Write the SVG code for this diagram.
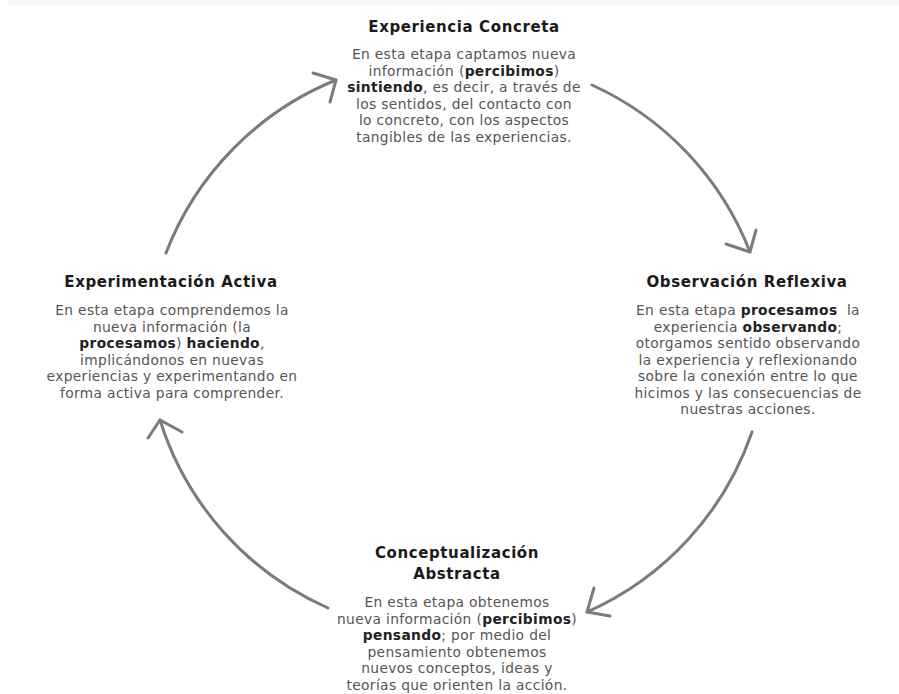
<svg xmlns="http://www.w3.org/2000/svg" width="899" height="694" viewBox="0 0 899 694">
<style>
.title{font-family:"DejaVu Sans",sans-serif;font-weight:bold;font-size:15px;letter-spacing:0.6px;fill:#1a1a1a;text-anchor:middle}
.body{font-family:"DejaVu Sans",sans-serif;font-size:13.8px;letter-spacing:0.35px;fill:#555;text-anchor:middle}
.b{font-weight:bold;fill:#222}
.arc{fill:none;stroke:#7b7b7b;stroke-width:3;stroke-linecap:round;stroke-linejoin:round}
</style>
<rect x="0" y="0" width="899" height="694" fill="#fff"/>
<rect x="8" y="0" width="891" height="5" fill="#f7f7f7"/>
<g id="connectors">
<path class="arc" d="M592,85 A305,305 0 0 1 750,252"/>
<polyline class="arc" points="726,244 750,252 756,230"/>
<path class="arc" d="M752,432 A305,305 0 0 1 587,612"/>
<polyline class="arc" points="594,588 587,612 610,616"/>
<path class="arc" d="M328,608 A305,305 0 0 1 160,420"/>
<polyline class="arc" points="148,438 160,420 182,432"/>
<path class="arc" d="M166,253 A305,305 0 0 1 336,80"/>
<polyline class="arc" points="313,73 336,80 330,102"/>
</g>
<g id="experiencia-concreta">
<text class="title" x="464" y="32">Experiencia Concreta</text>
<text class="body" x="464" y="59">En esta etapa captamos nueva</text>
<text class="body" x="464" y="75.5">información (<tspan class="b">percibimos</tspan>)</text>
<text class="body" x="464" y="92"><tspan class="b">sintiendo</tspan>, es decir, a través de</text>
<text class="body" x="464" y="108.5">los sentidos, del contacto con</text>
<text class="body" x="464" y="125">lo concreto, con los aspectos</text>
<text class="body" x="464" y="141.5">tangibles de las experiencias.</text>
</g>
<g id="observacion-reflexiva">
<text class="title" x="747" y="287">Observación Reflexiva</text>
<text class="body" x="748" y="315">En esta etapa <tspan class="b">procesamos</tspan>&#160; la</text>
<text class="body" x="748" y="331.5">experiencia <tspan class="b">observando</tspan>;</text>
<text class="body" x="748" y="348">otorgamos sentido observando</text>
<text class="body" x="748" y="364.5">la experiencia y reflexionando</text>
<text class="body" x="748" y="381">sobre la conexión entre lo que</text>
<text class="body" x="748" y="397.5">hicimos y las consecuencias de</text>
<text class="body" x="748" y="414">nuestras acciones.</text>
</g>
<g id="conceptualizacion-abstracta">
<text class="title" x="457" y="558">Conceptualización</text>
<text class="title" x="457" y="579">Abstracta</text>
<text class="body" x="457" y="607">En esta etapa obtenemos</text>
<text class="body" x="457" y="623.5">nueva información (<tspan class="b">percibimos</tspan>)</text>
<text class="body" x="457" y="640"><tspan class="b">pensando</tspan>; por medio del</text>
<text class="body" x="457" y="656.5">pensamiento obtenemos</text>
<text class="body" x="457" y="673">nuevos conceptos, ideas y</text>
<text class="body" x="457" y="689.5">teorías que orienten la acción.</text>
</g>
<g id="experimentacion-activa">
<text class="title" x="171" y="287">Experimentación Activa</text>
<text class="body" x="172" y="315">En esta etapa comprendemos la</text>
<text class="body" x="172" y="331.5">nueva información (la</text>
<text class="body" x="172" y="348"><tspan class="b">procesamos</tspan>) <tspan class="b">haciendo</tspan>,</text>
<text class="body" x="172" y="364.5">implicándonos en nuevas</text>
<text class="body" x="172" y="381">experiencias y experimentando en</text>
<text class="body" x="172" y="397.5">forma activa para comprender.</text>
</g>
</svg>
